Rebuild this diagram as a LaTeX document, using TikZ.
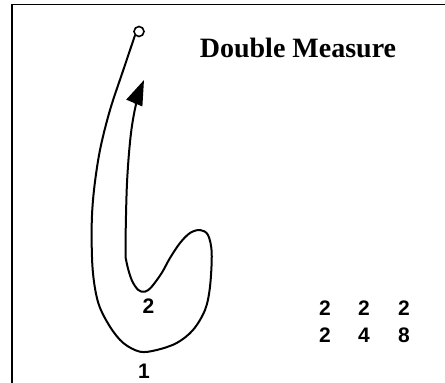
\documentclass[tikz,border=0pt]{standalone}
\usepackage{fontspec}
\setmainfont{Liberation Serif}
\newfontfamily\digitfont{Liberation Sans}
\usetikzlibrary{arrows.meta}
\begin{document}
\begin{tikzpicture}[x=1pt,y=-1pt,
  stroke/.style={line width=2pt,line cap=round,line join=round},
  digit/.style={font=\digitfont\bfseries\fontsize{21}{21}\selectfont,inner sep=0pt},
  title/.style={font=\bfseries\fontsize{28}{28}\selectfont,inner sep=0pt}]
\useasboundingbox (0,0) rectangle (445,383);
\clip (0,0) rectangle (445,383);
\draw[line width=1.4pt] (12,4.5) rectangle (470,410);
\node[draw,circle,line width=1.6pt,minimum size=10pt,inner sep=0pt] (start) at (139,31.5) {};
\coordinate (tip) at (144,80);
\draw[stroke,-{Triangle[length=25pt,width=17pt]}] plot[smooth,tension=0.55] coordinates {
 (start.south west) (123.3,70) (110,110) (100,150) (94,190) (91.7,225) (92.7,270) (98.3,303)
 (110,326.7) (123.3,343) (140,351.7) (156.7,350) (176.7,343) (193,330) (205,310) (210,286.7)
 (211.7,253) (208,235) (200,230) (190,233) (180,243) (170,258) (161.7,273) (151.7,286.7)
 (145,291.7) (138.3,290) (131.7,280) (126.7,263) (125.5,248)
 (127,183) (131,133) (137,100) (tip)};
\node[title] (ttl) at (298,48) {Double Measure};
\node[digit] (n2) at (148.5,306) {2};
\node[digit] (n1) at (144,371) {1};
\node[digit] (a1) at (325,308) {2};
\node[digit] (a2) at (364,308) {2};
\node[digit] (a3) at (404,308) {2};
\node[digit] (b1) at (325,335) {2};
\node[digit] (b2) at (364,335) {4};
\node[digit] (b3) at (404,335) {8};
\end{tikzpicture}
\end{document}
